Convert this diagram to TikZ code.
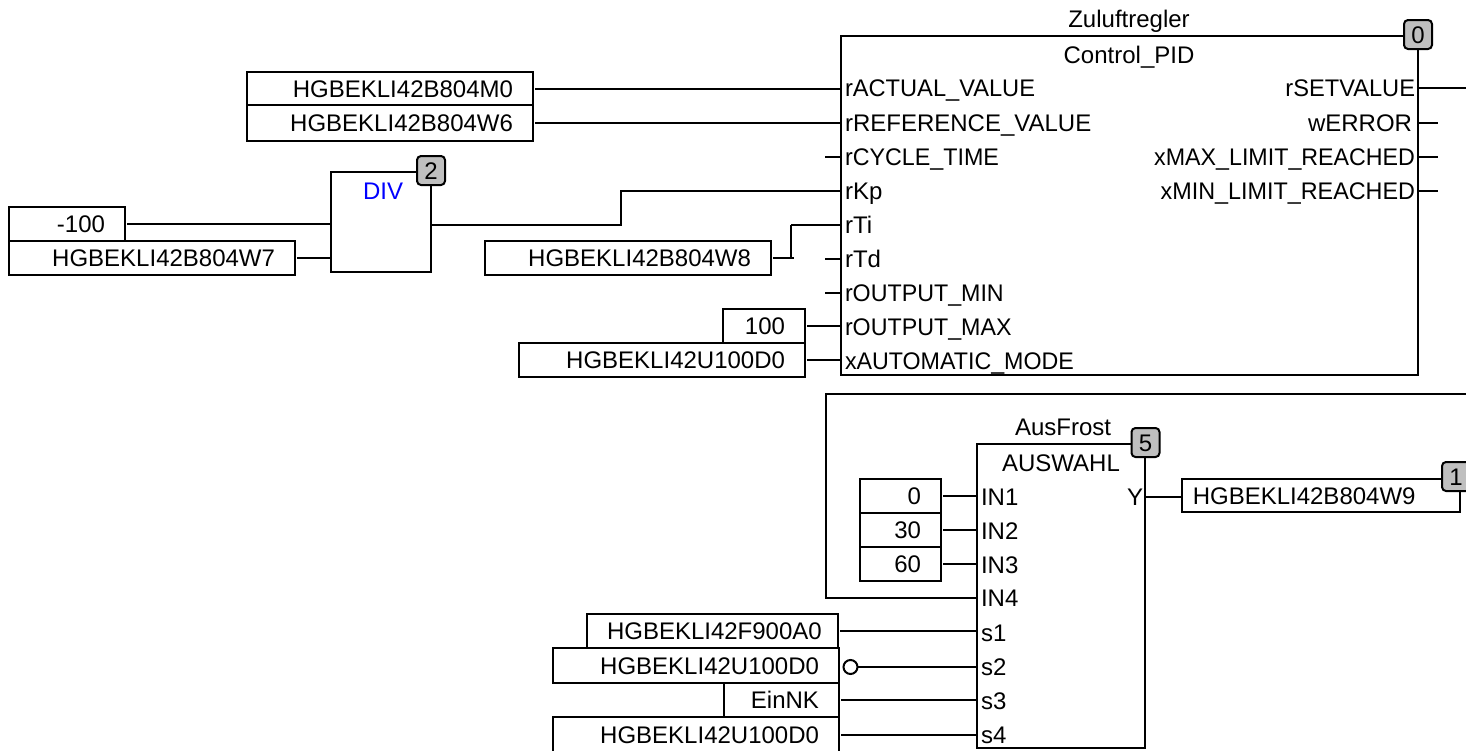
\documentclass[tikz,border=0pt]{standalone}
\usepackage{graphicx}
\usepackage{fontspec}
\setmainfont{Liberation Sans}
\definecolor{badgegray}{HTML}{BFBFBF}
\newcommand{\nar}[1]{\scalebox{.968}[1]{#1}}
\newcommand{\vbx}[6]{%
  \node[vbox,align=right,minimum width={(#4-#2)*1pt},minimum height={(#5-#3)*1pt},text width={(#4-#2-40)*1pt}]
    (#1) at ({(#2+#4)/2},{(#3+#5)/2}) {#6};}
\newcommand{\block}[5]{%
  \node[fblock,minimum width={(#4-#2)*1pt},minimum height={(#5-#3)*1pt}]
    (#1) at ({(#2+#4)/2},{(#3+#5)/2}) {};}
\newcommand{\pinL}[4]{\node[lbl,anchor=base west] (#1) at (#2,#3+8.5) {#4};}
\newcommand{\pinR}[4]{\node[lbl,anchor=base east] (#1) at (#2,#3+8.5) {#4};}
\tikzset{
  fnt/.style={font=\fontsize{24}{28}\selectfont},
  vbox/.style={draw=black,line width=2pt,fill=white,inner sep=0pt,outer sep=0pt,fnt,text height=17.2pt,text depth=0pt},
  fblock/.style={draw=black,line width=2pt,fill=white,inner sep=0pt,outer sep=0pt},
  lbl/.style={inner sep=0pt,outer sep=0pt,fnt,text=black},
  badge/.style={draw=black,line width=2pt,fill=badgegray,rounded corners=4pt,inner sep=0pt,outer sep=0pt,
    minimum width=28pt,minimum height=29pt,fnt,text height=17.2pt,text depth=0pt},
  wire/.style={draw=black,line width=2pt},
  gapwire/.style={wire,shorten <=2pt},
  neg/.style={draw=black,line width=2pt,fill=white,circle,minimum size=14pt,inner sep=0pt,outer sep=0pt}
}
\begin{document}
\begin{tikzpicture}[x=1pt,y=-1pt]
\useasboundingbox (0,0) rectangle (1466,750);
\clip (0,0) rectangle (1466,750);
\fill[white] (0,0) rectangle (1466,750);

% ---- free wire ends
\foreach \n/\yy in {a/88,b/123,c/157,d/191,e/225,f/259,g/293,h/327,i/361}
  \coordinate (pid\n) at (841,\yy);
\foreach \n/\yy in {a/88,b/123,c/157,d/191}
  \coordinate (pidR\n) at (1418,\yy);
\coordinate (stubC) at (825,157);
\coordinate (stubF) at (825,259);
\coordinate (stubG) at (825,293);
\coordinate (outA) at (1466,88);
\coordinate (outB) at (1438,123);
\coordinate (outC) at (1438,157);
\coordinate (outD) at (1438,191);
\coordinate (bendKa) at (621,225);
\coordinate (bendKb) at (621,191);
\coordinate (bendTa) at (791,258);
\coordinate (bendTb) at (791,225);
\coordinate (stubW8) at (794,258);
\coordinate (loopR) at (1470,394);
\coordinate (loopTL) at (825.5,394);
\coordinate (loopBL) at (825.5,598);
\coordinate (auswest) at (977,500);
\coordinate (in4) at (977,598);
\coordinate (ypin) at (1145,497);
\coordinate (divwest) at (331,225);
\coordinate (divOut) at (431,225);

% ---- wires behind the blocks
\draw[wire] (stubC) -- (pidc);
\draw[wire] (divOut) -- (bendKa) -- (bendKb) -- (pidd);
\draw[wire] (bendTb) -- (pide);
\draw[wire] (bendTa) -- (bendTb);
\draw[wire] (stubF) -- (pidf);
\draw[wire] (stubG) -- (pidg);
\draw[wire] (pidRa) -- (outA);
\draw[wire] (pidRb) -- (outB);
\draw[wire] (pidRc) -- (outC);
\draw[wire] (pidRd) -- (outD);
\draw[wire] (loopR) -- (loopTL) -- (loopBL) -- (in4);

% ---- function blocks
\block{pid}{841}{36}{1418}{375}
\block{div}{331}{172}{431}{272}
\block{aus}{977}{444}{1145}{748}

% ---- variable boxes
\vbx{vm0}{247}{72}{533}{105}{HGBEKLI42B804M0}
\vbx{vw6}{247}{105}{533}{141}{HGBEKLI42B804W6}
\vbx{vneg}{9}{207}{125}{241}{-100}
\vbx{vw7}{9}{241}{295}{275}{HGBEKLI42B804W7}
\vbx{vw8}{485}{241}{771}{275}{HGBEKLI42B804W8}
\vbx{vh}{723}{309}{805}{343}{100}
\vbx{vu}{519}{343}{805}{377}{HGBEKLI42U100D0}
\vbx{vz}{860}{479}{941}{513}{0}
\vbx{vt}{860}{513}{941}{547}{30}
\vbx{vs}{860}{547}{941}{581}{60}
\vbx{vf}{587}{614}{838}{648}{HGBEKLI42F900A0}
\vbx{vu2}{553}{648}{839}{683}{HGBEKLI42U100D0}
\vbx{ve}{724}{683}{839}{717}{EinNK}
\vbx{vu3}{553}{717}{839}{753}{HGBEKLI42U100D0}
\node[vbox,align=left,minimum width=278.5pt,minimum height=33pt,text width=256pt] (vw9) at (1320.75,495.5) {HGBEKLI42B804W9};

% ---- wires from variable boxes
\draw[gapwire] (vm0.east) -- (vm0.east -| pida);
\draw[gapwire] (vw6.east) -- (vw6.east -| pidb);
\draw[gapwire] (vneg.east) -- (vneg.east -| divwest);
\draw[gapwire] (vw7.east) -- (vw7.east -| divwest);
\draw[gapwire] (vw8.east) -- (vw8.east -| stubW8);
\draw[gapwire] (vh.east) -- (vh.east -| pidh);
\draw[gapwire] (vu.east) -- (vu.east -| pidi);
\draw[gapwire] (vz.east) -- (vz.east -| auswest);
\draw[gapwire] (vt.east) -- (vt.east -| auswest);
\draw[gapwire] (vs.east) -- (vs.east -| auswest);
\draw[gapwire] (vf.east) -- (vf.east -| auswest);
\node[neg] (inv) at (850.5,667) {};
\draw[wire] (inv.east) -- (inv.east -| auswest);
\draw[gapwire] (ve.east) -- (ve.east -| auswest);
\draw[gapwire] (vu3.east) -- (vu3.east -| auswest);
\draw[wire] (ypin) -- (ypin -| vw9.west);

% ---- block texts
\node[lbl,anchor=base] (tzul) at (1129,27) {Zuluftregler};
\node[lbl,anchor=base] (tctl) at (1129,63) {Control\_PID};
\node[lbl,anchor=base,text=blue] (tdiv) at (383,199) {DIV};
\node[lbl,anchor=base] (tfro) at (1063,435) {AusFrost};
\node[lbl,anchor=base] (taus) at (1061,471) {AUSWAHL};

\pinL{la}{845}{88}{\scalebox{.985}[1]{rACTUAL\_VALUE}}
\pinL{lb}{845}{123}{rREFERENCE\_VALUE}
\pinL{lc}{845}{157}{\scalebox{.97}[1]{rCYCLE\_TIME}}
\pinL{ld}{845}{191}{rKp}
\pinL{le}{845}{225}{rTi}
\pinL{lf}{845}{259}{rTd}
\pinL{lg}{845}{293}{\nar{rOUTPUT\_MIN}}
\pinL{lh}{845}{327}{\nar{rOUTPUT\_MAX}}
\pinL{li}{845}{361}{\nar{xAUTOMATIC\_MODE}}
\pinR{ra}{1415}{88}{\scalebox{.985}[1]{rSETVALUE}}
\pinR{rb}{1412}{123}{wERROR}
\pinR{rc}{1415}{157}{\nar{xMAX\_LIMIT\_REACHED}}
\pinR{rd}{1415}{191}{\scalebox{.973}[1]{xMIN\_LIMIT\_REACHED}}

\pinL{ia}{981}{497}{IN1}
\pinL{ib}{981}{531}{IN2}
\pinL{ic}{981}{565}{IN3}
\pinL{id}{981}{598}{IN4}
\pinL{sa}{981}{633}{s1}
\pinL{sb}{981}{667}{s2}
\pinL{sc}{981}{701}{s3}
\pinL{sd}{981}{735}{s4}
\pinR{yy}{1143}{497}{Y}

% ---- badges
\node[badge] (b0) at (1418,34.5) {0};
\node[badge] (b2) at (431,170.5) {2};
\node[badge] (b5) at (1145.5,442.5) {5};
\node[badge] (b1) at (1456,476.5) {1};
\end{tikzpicture}
\end{document}
